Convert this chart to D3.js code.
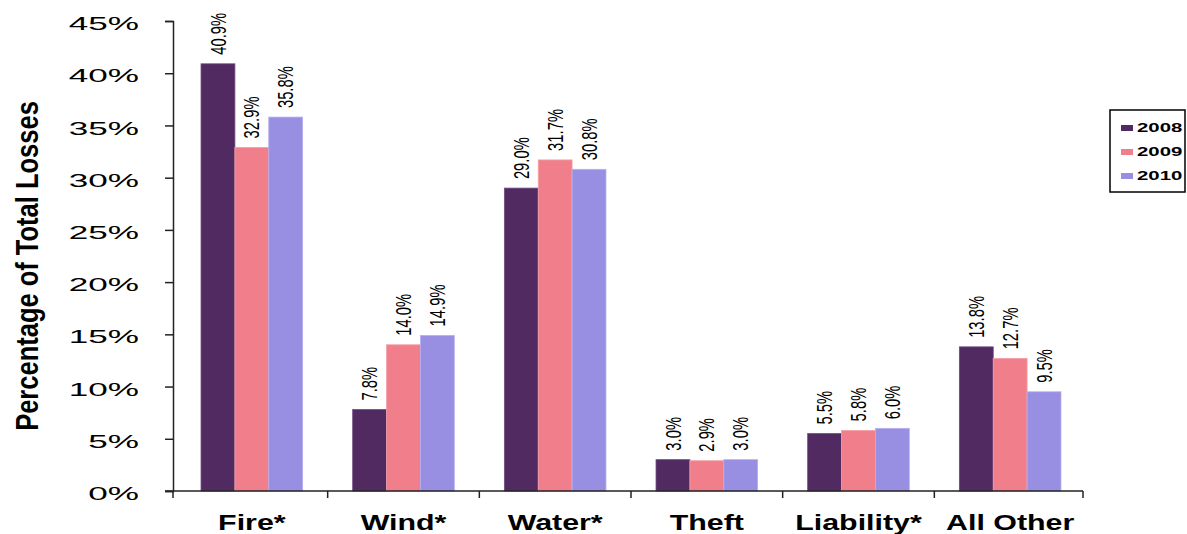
<!DOCTYPE html>
<html>
<head>
<meta charset="utf-8">
<script src="https://cdn.jsdelivr.net/npm/d3@7"></script>
<style>
  html, body { margin: 0; padding: 0; background: #ffffff; }
  svg { display: block; }
</style>
</head>
<body>
<div id="chart"></div>
<script>
const categories = ["Fire*", "Wind*", "Water*", "Theft", "Liability*", "All Other"];
const years = ["2008", "2009", "2010"];
const values2008 = [40.9, 7.8, 29.0, 3.0, 5.5, 13.8];
const values2009 = [32.9, 14.0, 31.7, 2.9, 5.8, 12.7];
const values2010 = [35.8, 14.9, 30.8, 3.0, 6.0, 9.5];
const yTicks = [0, 5, 10, 15, 20, 25, 30, 35, 40, 45];
const yTitle = "Percentage of Total Losses";

const colors = {"2008": "#512a62", "2009": "#f07f8b", "2010": "#988ee2"};
const strokes = {"2008": "#6e4a80", "2009": "#f5a0a8", "2010": "#b7aff0"};

const seriesByYear = {"2008": values2008, "2009": values2009, "2010": values2010};

const W = 1187, H = 534;
const svg = d3.select("#chart").append("svg").attr("width", W).attr("height", H);

const x0 = 173, x1 = 1083, yBottom = 491, yTop = 21;

const x = d3.scaleBand().domain(categories).range([176, 1086]).paddingInner(0.33).paddingOuter(0.165);
const xs = d3.scaleBand().domain(years).range([0, x.bandwidth()]);
const y = d3.scaleLinear().domain([0, 45]).range([yBottom, yTop]);

// bars
const rows = [];
categories.forEach((c, i) => {
  years.forEach(yr => rows.push({cat: c, year: yr, v: seriesByYear[yr][i]}));
});

svg.append("g").selectAll("rect").data(rows).join("rect")
  .attr("x", d => x(d.cat) + xs(d.year))
  .attr("y", d => y(d.v))
  .attr("width", xs.bandwidth())
  .attr("height", d => y(0) - y(d.v))
  .attr("fill", d => colors[d.year])
  .attr("stroke", d => strokes[d.year])
  .attr("stroke-width", 0.8);

// value labels (rotated)
svg.append("g").selectAll("text").data(rows).join("text")
  .attr("transform", d => {
    const cx = x(d.cat) + xs(d.year) + xs.bandwidth() / 2;
    return `translate(${cx},${y(d.v) - 9}) scale(1.5,1) rotate(-90)`;
  })
  .attr("text-anchor", "start")
  .attr("dominant-baseline", "central")
  .attr("font-family", "Liberation Sans, Arial, sans-serif")
  .attr("font-size", 14.8)
  .attr("fill", "#000")
  .text(d => d.v.toFixed(1) + "%");

// y axis
const yAxis = d3.axisLeft(y).tickValues(yTicks).tickSize(8).tickFormat("");
const gy = svg.append("g").attr("transform", `translate(${x0},0)`).call(yAxis);
gy.select(".domain").attr("stroke", "#222").attr("stroke-width", 1.5);
gy.selectAll(".tick line").attr("stroke", "#222").attr("stroke-width", 1.5);

// y tick labels (stretched)
svg.append("g").selectAll("text").data(yTicks).join("text")
  .attr("transform", d => `translate(139,${y(d) + 3}) scale(1.95,1)`)
  .attr("text-anchor", "end")
  .attr("dominant-baseline", "central")
  .attr("font-family", "Liberation Sans, Arial, sans-serif")
  .attr("font-size", 18)
  .attr("fill", "#000")
  .text(d => d + "%");

// x axis
const step = x.step();
const inner = categories.slice(1).map(c => x(c) - step * x.paddingInner() / 2);
const tickPositions = [x0, ...inner, x1];
svg.append("line")
  .attr("x1", x0 - 8).attr("x2", x1)
  .attr("y1", yBottom).attr("y2", yBottom)
  .attr("stroke", "#222").attr("stroke-width", 1.5);
svg.append("g").selectAll("line").data(tickPositions).join("line")
  .attr("x1", d => d).attr("x2", d => d)
  .attr("y1", yBottom).attr("y2", yBottom + 7)
  .attr("stroke", "#222").attr("stroke-width", 1.5);

// category labels
svg.append("g").selectAll("text").data(categories).join("text")
  .attr("transform", d => `translate(${x(d) + x.bandwidth() / 2},530) scale(1.38,1)`)
  .attr("text-anchor", "middle")
  .attr("font-family", "Liberation Sans, Arial, sans-serif")
  .attr("font-weight", "bold")
  .attr("font-size", 22)
  .attr("fill", "#000")
  .text(d => d);

// y title
svg.append("text")
  .attr("transform", `translate(27,266) scale(1.25,1) rotate(-90)`)
  .attr("text-anchor", "middle")
  .attr("dominant-baseline", "central")
  .attr("font-family", "Liberation Sans, Arial, sans-serif")
  .attr("font-weight", "bold")
  .attr("font-size", 25.5)
  .attr("fill", "#000")
  .text(yTitle);

// legend
const lg = svg.append("g");
lg.append("rect")
  .attr("x", 1110).attr("y", 110).attr("width", 75).attr("height", 82)
  .attr("fill", "#fff").attr("stroke", "#000").attr("stroke-width", 1.5);
years.forEach((yr, i) => {
  const ly = 128 + i * 24;
  lg.append("rect").attr("x", 1121).attr("y", ly - 3).attr("width", 12).attr("height", 6)
    .attr("fill", colors[yr]);
  lg.append("text")
    .attr("transform", `translate(1137,${ly}) scale(1.7,1)`)
    .attr("dominant-baseline", "central")
    .attr("font-family", "Liberation Sans, Arial, sans-serif")
    .attr("font-weight", "bold")
    .attr("font-size", 12)
    .attr("fill", "#000")
    .text(yr);
});
</script>
</body>
</html>
